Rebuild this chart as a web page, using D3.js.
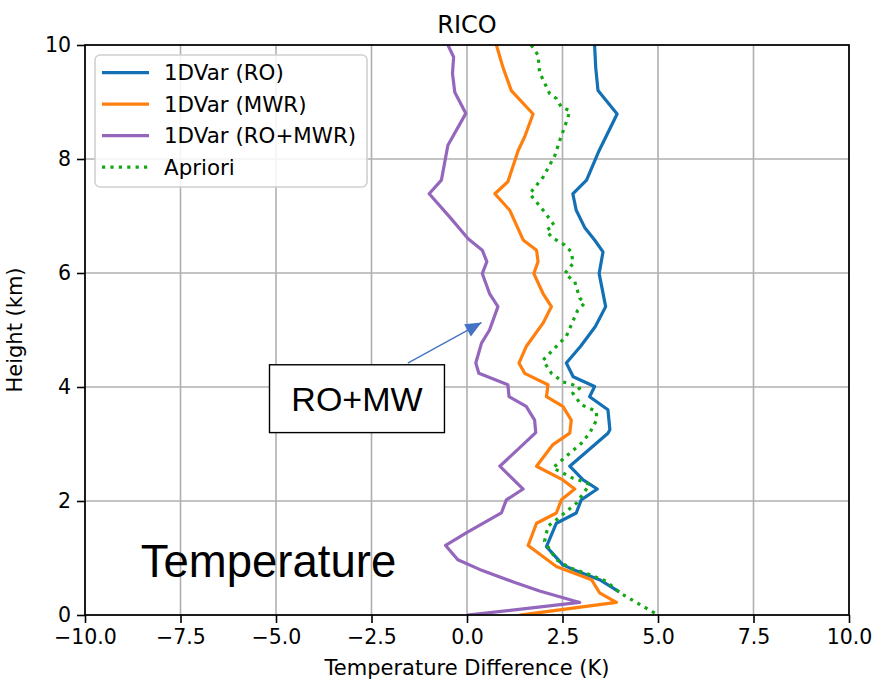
<!DOCTYPE html>
<html>
<head>
<meta charset="utf-8">
<script src="https://cdn.jsdelivr.net/npm/d3@7"></script>
<style>
  html, body { margin: 0; padding: 0; background: #fff; }
  svg { display: block; }
</style>
</head>
<body>
<svg id="chart" width="875" height="681"></svg>
<script>
// ---------------- DATA ----------------
const title = "RICO";
const xLabel = "Temperature Difference (K)";
const yLabel = "Height (km)";
const xTicks = [-10, -7.5, -5, -2.5, 0, 2.5, 5, 7.5, 10];
const yTicks = [0, 2, 4, 6, 8, 10];

const seriesNames = ["1DVar (RO)", "1DVar (MWR)", "1DVar (RO+MWR)", "Apriori"];

// heights (km) and temperature differences (K) per series
const roHeight = [10, 9.6, 9.2, 8.79, 8.15, 7.63, 7.39, 7.1, 6.8, 6.57, 6.37, 5.99, 5.41, 5.06, 4.71, 4.42, 4.18, 4.01, 3.83, 3.6, 3.25, 3.19, 2.61, 2.37, 2.21, 2.02, 1.79, 1.61, 1.2, 0.88, 0.8, 0.62, 0.42];
const roValue  = [3.34, 3.37, 3.43, 3.93, 3.46, 3.13, 2.77, 2.86, 3.08, 3.35, 3.56, 3.46, 3.63, 3.36, 2.97, 2.60, 2.78, 3.34, 3.21, 3.69, 3.74, 3.69, 2.69, 3.04, 3.41, 2.99, 2.86, 2.34, 2.08, 2.51, 2.77, 3.47, 3.95];

const mwrHeight = [10, 9.61, 9.2, 8.79, 8.39, 8.15, 7.6, 7.39, 7.1, 6.58, 6.4, 6.2, 5.99, 5.64, 5.41, 5.12, 4.71, 4.42, 4.24, 4.04, 3.83, 3.66, 3.42, 3.19, 2.99, 2.61, 2.37, 2.21, 2.02, 1.79, 1.61, 1.22, 0.85, 0.62, 0.39, 0.22, 0.0];
const mwrValue  = [0.77, 0.94, 1.16, 1.73, 1.51, 1.34, 1.07, 0.73, 1.12, 1.47, 1.82, 1.86, 1.75, 1.99, 2.21, 1.99, 1.55, 1.36, 1.51, 2.12, 2.08, 2.51, 2.73, 2.69, 2.25, 1.82, 2.51, 2.82, 2.47, 2.34, 1.82, 1.60, 2.34, 3.26, 3.47, 3.91, 1.42];

const bothHeight = [10, 9.79, 9.5, 9.17, 8.8, 8.24, 7.63, 7.39, 6.98, 6.6, 6.4, 6.2, 5.99, 5.64, 5.41, 5.0, 4.77, 4.42, 4.24, 4.04, 3.83, 3.66, 3.42, 3.2, 2.61, 2.21, 2.02, 1.79, 1.44, 1.22, 0.97, 0.8, 0.56, 0.42, 0.22, 0.0];
const bothValue  = [-0.5, -0.35, -0.38, -0.32, -0.03, -0.5, -0.67, -0.99, -0.45, 0.03, 0.4, 0.52, 0.4, 0.59, 0.81, 0.59, 0.38, 0.23, 0.31, 1.07, 1.1, 1.55, 1.77, 1.80, 0.86, 1.47, 1.03, 0.9, -0.02, -0.56, -0.24, 0.33, 1.29, 1.9, 2.95, 0.05];

const aprioriHeight = [10, 9.82, 9.52, 9.15, 9.06, 8.91, 8.85, 8.72, 8.33, 8.06, 7.68, 7.39, 7.07, 6.84, 6.75, 6.63, 6.49, 6.37, 6.17, 5.99, 5.85, 5.56, 5.47, 5.35, 4.89, 4.65, 4.47, 4.24, 4.09, 4.04, 3.98, 3.89, 3.69, 3.57, 3.42, 3.19, 3.01, 2.84, 2.58, 2.4, 2.34, 2.29, 1.96, 1.67, 1.56, 1.29, 0.97, 0.83, 0.71, 0.59, 0.39, 0.0];
const aprioriValue  = [1.68, 1.86, 1.9, 2.16, 2.34, 2.47, 2.69, 2.64, 2.43, 2.3, 1.99, 1.64, 2.03, 2.28, 2.08, 2.21, 2.56, 2.73, 2.78, 2.56, 2.82, 2.95, 3.08, 2.9, 2.6, 2.25, 1.99, 2.21, 2.51, 2.77, 2.95, 2.77, 2.99, 3.39, 3.39, 3.21, 2.99, 2.69, 2.25, 2.77, 3.04, 3.21, 2.86, 2.34, 2.12, 2.03, 2.34, 2.69, 3.21, 3.65, 4.0, 5.0];

// annotations (data coordinates)
const boxText = "RO+MW";
const boxX = [-5.17, -0.59];
const boxY = [3.2, 4.39];
const arrowFrom = [-1.55, 4.42];
const arrowTo = [0.38, 5.13];
const bigText = "Temperature";
const bigTextPos = [-8.54, 0.67];

// ---------------- STYLE ----------------
const colors = ["#1370b5", "#ff7f0e", "#9467bd", "#12a812"];
const margin = { left: 85, top: 45, right: 26, bottom: 66 };
const W = 875, H = 681;
const iw = W - margin.left - margin.right;   // 764
const ih = H - margin.top - margin.bottom;   // 570

const svg = d3.select("#chart");
const g = svg.append("g").attr("transform", `translate(${margin.left},${margin.top})`);

const x = d3.scaleLinear().domain([-10, 10]).range([0, iw]);
const y = d3.scaleLinear().domain([0, 10]).range([ih, 0]);

const font = "'DejaVu Sans', sans-serif";

// grid
g.append("g").selectAll("line").data(xTicks).join("line")
  .attr("x1", d => x(d)).attr("x2", d => x(d)).attr("y1", 0).attr("y2", ih)
  .attr("stroke", "#b0b0b0").attr("stroke-width", 1.6);
g.append("g").selectAll("line").data(yTicks).join("line")
  .attr("y1", d => y(d)).attr("y2", d => y(d)).attr("x1", 0).attr("x2", iw)
  .attr("stroke", "#b0b0b0").attr("stroke-width", 1.6);

// clip
svg.append("defs").append("clipPath").attr("id", "clip")
  .append("rect").attr("x", 0).attr("y", 0).attr("width", iw).attr("height", ih);

const seriesData = [
  d3.zip(roValue, roHeight),
  d3.zip(mwrValue, mwrHeight),
  d3.zip(bothValue, bothHeight),
  d3.zip(aprioriValue, aprioriHeight)
];

const line = d3.line().x(d => x(d[0])).y(d => y(d[1]));
const plot = g.append("g").attr("clip-path", "url(#clip)");
seriesData.forEach((s, i) => {
  plot.append("path")
    .datum(s)
    .attr("d", line)
    .attr("fill", "none")
    .attr("stroke", colors[i])
    .attr("stroke-width", 3.2)
    .attr("stroke-linejoin", "round")
    .attr("stroke-linecap", i === 3 ? "butt" : "square")
    .attr("stroke-dasharray", i === 3 ? "3.2,5.2" : null);
});

// axes
const xAxis = d3.axisBottom(x).tickValues(xTicks).tickFormat(d3.format(".1f")).tickSize(8).tickPadding(6);
const yAxis = d3.axisLeft(y).tickValues(yTicks).tickFormat(d3.format("d")).tickSize(8).tickPadding(6);

const gx = g.append("g").attr("transform", `translate(0,${ih})`).call(xAxis);
const gy = g.append("g").call(yAxis);
[gx, gy].forEach(a => {
  a.select(".domain").remove();
  a.selectAll(".tick line").attr("stroke", "#000").attr("stroke-width", 1.6);
  a.selectAll(".tick text").attr("fill", "#000").style("font-family", font).style("font-size", "20.5px");
});
gy.selectAll(".tick text").attr("dy", "0.3em");

// frame
g.append("rect").attr("x", 0).attr("y", 0).attr("width", iw).attr("height", ih)
  .attr("fill", "none").attr("stroke", "#000").attr("stroke-width", 1.7);

// title & labels
svg.append("text").attr("x", margin.left + iw / 2).attr("y", 33)
  .attr("text-anchor", "middle").style("font-family", font).style("font-size", "24px").text(title);
svg.append("text").attr("x", margin.left + iw / 2).attr("y", 675)
  .attr("text-anchor", "middle").style("font-family", font).style("font-size", "21px").text(xLabel);
svg.append("text").attr("transform", `translate(22,${margin.top + ih / 2}) rotate(-90)`)
  .attr("text-anchor", "middle").style("font-family", font).style("font-size", "21px").text(yLabel);

// legend
const leg = svg.append("g").attr("transform", "translate(95,55)");
leg.append("rect").attr("x", 0).attr("y", 0).attr("width", 272).attr("height", 132)
  .attr("rx", 5).attr("fill", "#fff").attr("fill-opacity", 0.85)
  .attr("stroke", "#d0d0d0").attr("stroke-width", 1.6);
seriesNames.forEach((name, i) => {
  const cy = 17.7 + i * 31.5;
  leg.append("line").attr("x1", 7).attr("x2", 54).attr("y1", cy).attr("y2", cy)
    .attr("stroke", colors[i]).attr("stroke-width", 3.2)
    .attr("stroke-dasharray", i === 3 ? "3.2,5.2" : null);
  leg.append("text").attr("x", 69).attr("y", cy + 7.7)
    .style("font-family", font).style("font-size", "21.4px").text(name);
});

// annotation: box with arrow
const ann = g.append("g");
ann.append("line")
  .attr("x1", x(arrowFrom[0])).attr("y1", y(arrowFrom[1]))
  .attr("x2", x(arrowTo[0])).attr("y2", y(arrowTo[1]))
  .attr("stroke", "#4472c4").attr("stroke-width", 1.3);
{
  const x1 = x(arrowFrom[0]), y1 = y(arrowFrom[1]), x2 = x(arrowTo[0]), y2 = y(arrowTo[1]);
  const ang = Math.atan2(y2 - y1, x2 - x1);
  const L = 16, Wd = 7;
  const bx = x2 - L * Math.cos(ang), by = y2 - L * Math.sin(ang);
  const px = -Math.sin(ang) * Wd, py = Math.cos(ang) * Wd;
  ann.append("path")
    .attr("d", `M${x2},${y2}L${bx + px},${by + py}L${bx - px},${by - py}Z`)
    .attr("fill", "#4472c4");
}
ann.append("rect")
  .attr("x", x(boxX[0])).attr("y", y(boxY[1]))
  .attr("width", x(boxX[1]) - x(boxX[0])).attr("height", y(boxY[0]) - y(boxY[1]))
  .attr("fill", "#fff").attr("stroke", "#000").attr("stroke-width", 1.4);
ann.append("text")
  .attr("x", (x(boxX[0]) + x(boxX[1])) / 2)
  .attr("y", (y(boxY[0]) + y(boxY[1])) / 2 + 12)
  .attr("text-anchor", "middle")
  .style("font-family", "'Liberation Sans', Arial, sans-serif").style("font-size", "34px")
  .text(boxText);

// big label
g.append("text").attr("x", x(bigTextPos[0])).attr("y", y(bigTextPos[1]))
  .style("font-family", "'Liberation Sans', Arial, sans-serif").style("font-size", "45.5px")
  .text(bigText);
</script>
</body>
</html>
